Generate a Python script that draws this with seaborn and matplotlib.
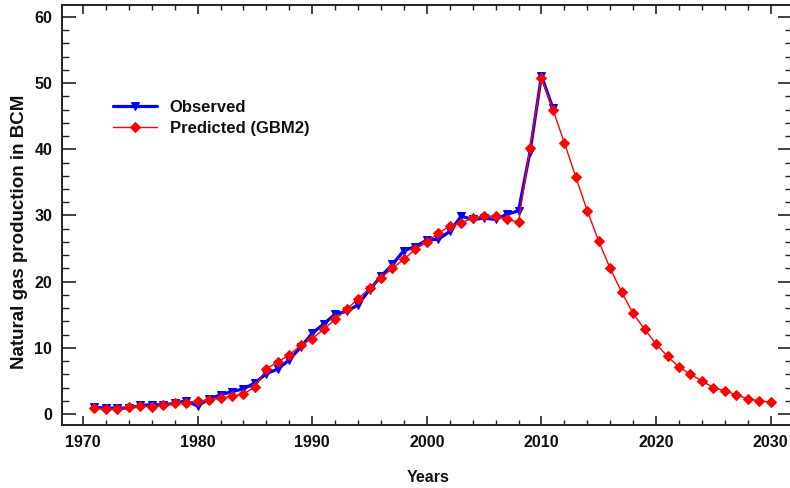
import matplotlib
matplotlib.use("Agg")
import matplotlib.pyplot as plt
from matplotlib.ticker import MultipleLocator
import seaborn as sns
import pandas as pd

# Annual natural gas production (billion cubic metres)
obs_years = list(range(1971, 2012))
observed = [1.0, 0.9, 0.9, 0.9, 1.3, 1.4, 1.4, 1.6, 2.0, 1.2,
            2.3, 2.9, 3.4, 3.8, 4.7, 6.1, 6.8, 8.2, 10.1, 12.2,
            13.6, 15.1, 15.5, 16.5, 18.8, 20.8, 22.6, 24.7, 25.3, 26.3,
            26.4, 27.6, 29.9, 29.4, 29.6, 29.4, 30.2, 30.7, 39.6, 51.1,
            46.2]

pred_years = list(range(1971, 2031))
predicted = [0.9, 0.7, 0.8, 1.0, 1.2, 1.1, 1.3, 1.6, 1.7, 2.0,
             2.1, 2.4, 2.7, 3.0, 4.1, 6.8, 7.9, 8.9, 10.4, 11.4,
             12.8, 14.3, 15.8, 17.4, 19.0, 20.6, 22.0, 23.4, 24.9, 26.0,
             27.3, 28.4, 28.9, 29.6, 29.9, 29.9, 29.4, 29.0, 40.2, 50.8,
             46.0, 41.0, 35.8, 30.7, 26.1, 22.0, 18.4, 15.2, 12.8, 10.6,
             8.7, 7.1, 6.0, 5.0, 4.0, 3.5, 2.9, 2.3, 2.0, 1.8]

series_labels = ["Observed", "Predicted (GBM2)"]
x_label = "Years"
y_label = "Natural gas production in BCM"

sns.set_style("ticks")
plt.rcParams["font.family"] = ["Liberation Sans", "DejaVu Sans"]
plt.rcParams["font.weight"] = "bold"
plt.rcParams["text.color"] = "#111111"
plt.rcParams["axes.labelcolor"] = "#111111"
plt.rcParams["xtick.labelcolor"] = "#111111"
plt.rcParams["ytick.labelcolor"] = "#111111"

obs_df = pd.DataFrame({"year": obs_years, "value": observed})
pred_df = pd.DataFrame({"year": pred_years, "value": predicted})

W, H = 790, 488
fig = plt.figure(figsize=(W / 100, H / 100), dpi=100)
ax = fig.add_axes([62 / W, (H - 425) / H, 730 / W, 420 / H])

sns.lineplot(data=obs_df, x="year", y="value", ax=ax, color="#0000FF",
             linewidth=2.3, marker="v", markersize=6, markeredgecolor="#0000FF",
             label=series_labels[0])
sns.lineplot(data=pred_df, x="year", y="value", ax=ax, color="#FF0000",
             linewidth=1.0, marker="D", markersize=5.5, markeredgecolor="#FF0000",
             label=series_labels[1])

ax.set_xlim(1968.17, 2031.86)
ax.set_ylim(-1.66, 61.81)
ax.xaxis.set_major_locator(MultipleLocator(10))
ax.xaxis.set_minor_locator(MultipleLocator(2))
ax.yaxis.set_major_locator(MultipleLocator(10))
ax.yaxis.set_minor_locator(MultipleLocator(2))

ax.tick_params(axis="x", which="major", direction="in", top=True, bottom=True,
               length=6.5, width=1.2, labelsize=11.5, pad=7, color="#222222")
ax.tick_params(axis="x", which="minor", direction="in", top=True, bottom=True,
               length=3.5, width=1.0, color="#222222")
ax.tick_params(axis="y", which="major", direction="in", left=True, right=True,
               length=10, width=1.2, labelsize=11.5, pad=7, color="#222222")
ax.tick_params(axis="y", which="minor", direction="in", left=True, right=True,
               length=5, width=1.0, color="#222222")
for lbl in ax.get_xticklabels() + ax.get_yticklabels():
    lbl.set_fontweight("bold")

for side in ["left", "bottom", "top", "right"]:
    ax.spines[side].set_visible(True)
    ax.spines[side].set_linewidth(1.4)
    ax.spines[side].set_color("#222222")

ax.set_xlabel(x_label, fontsize=11.5, fontweight="bold")
ax.set_ylabel(y_label, fontsize=13.5, fontweight="bold")
ax.xaxis.set_label_coords(0.502, -0.108)
ax.yaxis.set_label_coords(-0.046, 0.46)

ax.legend(loc="upper left", bbox_to_anchor=(113 / W, 1 - 100 / H),
          bbox_transform=fig.transFigure, frameon=False,
          prop={"weight": "bold", "size": 12}, handlelength=2.65,
          handletextpad=0.75, labelspacing=0.38, borderpad=0, borderaxespad=0)

fig.savefig("out.png", dpi=100)
